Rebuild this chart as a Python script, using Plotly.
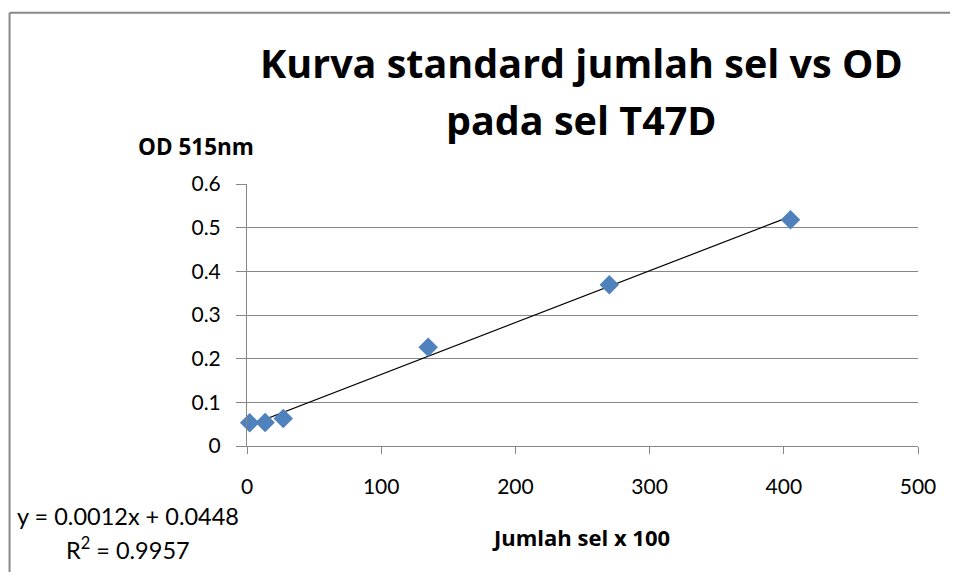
import numpy as np
import plotly.graph_objects as go

# ---- data ----
jumlah_sel = [2, 13.5, 27, 135, 270, 405]          # x: Jumlah sel x 100
od_515 = [0.053, 0.054, 0.063, 0.226, 0.369, 0.518]  # y: OD 515nm
x_ticks = [0, 100, 200, 300, 400, 500]
y_ticks = [0, 0.1, 0.2, 0.3, 0.4, 0.5, 0.6]
y_tick_text = ["0", "0.1", "0.2", "0.3", "0.4", "0.5", "0.6"]
title_lines = ["Kurva standard jumlah sel vs OD", "pada sel T47D"]
equation_lines = ["y = 0.0012x + 0.0448", "R<sup>2</sup> = 0.9957"]

# linear trendline from the data
slope, intercept = np.polyfit(jumlah_sel, od_515, 1)
trend_x = [min(jumlah_sel), max(jumlah_sel)]
trend_y = [slope * v + intercept for v in trend_x]

# ---- layout geometry (window pixels; page body has an 8px margin) ----
OFF = 8
WIDTH, HEIGHT = 958 - 2 * OFF, 580 - 2 * OFF
L, R, T, B = 246.7 - OFF, 918.4 - OFF, 183.5 - OFF, 445.7 - OFF
PW, PH = R - L, B - T


def px(xw):
    return (xw - OFF - L) / PW


def py(yw):
    return (B - (yw - OFF)) / PH


FONT = "Lato"
BFONT = "Open Sans"
GRID = "#878787"

fig = go.Figure()
fig.add_trace(go.Scatter(
    x=trend_x, y=trend_y, mode="lines",
    line=dict(color="#000000", width=1.2), hoverinfo="skip", showlegend=False))
fig.add_trace(go.Scatter(
    x=jumlah_sel, y=od_515, mode="markers", cliponaxis=False,
    marker=dict(symbol="diamond", size=15, color="#4F81BD", line=dict(width=0)),
    showlegend=False))

annotations = [
    dict(text="<b>%s</b>" % title_lines[0], x=px(582), y=py(62), xanchor="center", yanchor="middle",
         font=dict(family=BFONT, size=39.5, color="#000000")),
    dict(text="<b>%s</b>" % title_lines[1], x=px(582), y=py(119), xanchor="center", yanchor="middle",
         font=dict(family=BFONT, size=39.5, color="#000000")),
    dict(text="<b>OD 515nm</b>", x=px(136), y=py(145.5), xanchor="left", yanchor="middle",
         font=dict(family=BFONT, size=22.5, color="#000000")),
    dict(text="<b>Jumlah sel x 100</b>", x=px(581.5), y=py(537), xanchor="center", yanchor="middle",
         font=dict(family=BFONT, size=22, color="#000000")),
    dict(text=equation_lines[0], x=px(127.5), y=py(515.5), xanchor="center", yanchor="middle",
         font=dict(family=FONT, size=23.5, color="#000000")),
    dict(text=equation_lines[1], x=px(127.5), y=py(548), xanchor="center", yanchor="middle",
         font=dict(family=FONT, size=23.5, color="#000000")),
]
for a in annotations:
    a.update(xref="paper", yref="paper", showarrow=False)

shapes = [
    dict(type="line", xref="paper", yref="paper", x0=px(9), x1=px(9), y0=py(12), y1=py(600),
         line=dict(color="#888888", width=2)),
    dict(type="line", xref="paper", yref="paper", x0=px(9), x1=px(990), y0=py(12), y1=py(12),
         line=dict(color="#888888", width=2)),
]

fig.update_layout(
    width=WIDTH, height=HEIGHT,
    margin=dict(l=L, r=WIDTH - R, t=T, b=HEIGHT - B),
    paper_bgcolor="#FFFFFF", plot_bgcolor="#FFFFFF",
    showlegend=False,
    annotations=annotations,
    shapes=shapes,
    xaxis=dict(range=[0, 500], tickvals=x_ticks, ticktext=[str(v) for v in x_ticks],
               showgrid=False, zeroline=False, showline=True, linecolor=GRID, linewidth=1,
               ticks="outside", ticklen=7, tickcolor=GRID, tickwidth=1,
               ticklabelstandoff=15,
               tickfont=dict(family=FONT, size=21, color="#000000")),
    yaxis=dict(range=[0, 0.6], tickvals=y_ticks, ticktext=y_tick_text,
               showgrid=True, gridcolor=GRID, gridwidth=1, zeroline=False,
               showline=True, linecolor=GRID, linewidth=1,
               ticks="outside", ticklen=10, tickcolor=GRID, tickwidth=1,
               ticklabelstandoff=11,
               tickfont=dict(family=FONT, size=21, color="#000000")),
)

fig.write_html("out.html")
